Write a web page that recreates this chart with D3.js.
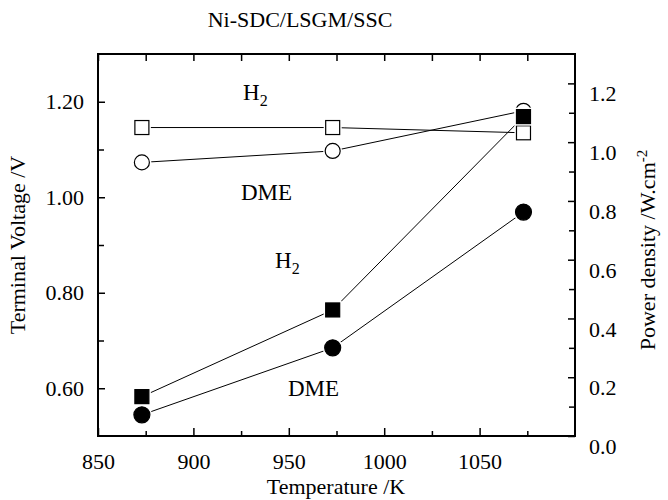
<!DOCTYPE html>
<html lang="en">
<head>
<meta charset="UTF-8">
<title>Ni-SDC/LSGM/SSC</title>
<script src="https://d3js.org/d3.v7.min.js"></script>
<style>
  body { margin: 0; background: #fff; }
  svg text { font-family: "Liberation Serif", "DejaVu Serif", serif; fill: #000; }
</style>
</head>
<body>
<div id="chart"></div>
<script>
// data
const temps = [873, 973, 1073];
const voltH2 = [1.146, 1.146, 1.135];     // open squares, left axis
const voltDME = [1.073, 1.097, 1.181];    // open circles, left axis
const powerH2 = [0.134, 0.429, 1.087];    // filled squares, right axis
const powerDME = [0.072, 0.300, 0.762];   // filled circles, right axis

const xTicks = [850, 900, 950, 1000, 1050];
const xMinor = [875, 925, 975, 1025, 1075];
const leftTicks = [0.6, 0.8, 1.0, 1.2];
const leftMinor = [0.7, 0.9, 1.1];
const rightTicks = [0.0, 0.2, 0.4, 0.6, 0.8, 1.0, 1.2];
const rightMinor = [0.1, 0.3, 0.5, 0.7, 0.9, 1.1];

const W = 668, H = 500;
const margin = { top: 54, right: 93, bottom: 64, left: 98 };
const width = W - margin.left - margin.right;
const height = H - margin.top - margin.bottom;
const serif = '"Liberation Serif", "DejaVu Serif", serif';

const svg = d3.select("#chart").append("svg")
  .attr("width", W).attr("height", H)
  .attr("font-family", serif);

const g = svg.append("g")
  .attr("transform", `translate(${margin.left},${margin.top})`);

const x = d3.scaleLinear().domain([850, 1100]).range([0, width]);
const yL = d3.scaleLinear().domain([0.5, 1.3]).range([height, 0]);
const yR = d3.scaleLinear().domain([0, 1.3]).range([height, 0]);

const fs = 22;

// axes (ticks point inward)
function styleAxis(sel) {
  sel.attr("font-family", serif).attr("font-size", fs);
  sel.select(".domain").remove();
  sel.selectAll(".tick line").attr("stroke", "#000").attr("stroke-width", 1.5);
  sel.selectAll(".tick text").style("font-size", fs + "px").style("font-family", serif);
}

g.append("g").attr("transform", `translate(0,${height})`)
  .call(d3.axisBottom(x).tickValues(xTicks).tickSizeInner(-8).tickPadding(17).tickFormat(d3.format("d")))
  .call(styleAxis);
g.append("g").attr("transform", `translate(0,${height})`)
  .call(d3.axisBottom(x).tickValues(xMinor).tickSizeInner(-5).tickFormat(""))
  .call(styleAxis);
g.append("g")
  .call(d3.axisTop(x).tickValues(xTicks.concat(xMinor)).tickSizeInner(-7).tickFormat(""))
  .call(styleAxis);

g.append("g")
  .call(d3.axisLeft(yL).tickValues(leftTicks).tickSizeInner(-7).tickPadding(14).tickFormat(d3.format(".2f")))
  .call(styleAxis);
g.append("g")
  .call(d3.axisLeft(yL).tickValues(leftMinor).tickSizeInner(-6).tickFormat(""))
  .call(styleAxis);

const rAx = g.append("g").attr("transform", `translate(${width},0)`)
  .call(d3.axisRight(yR).tickValues(rightTicks).tickSizeInner(-7).tickPadding(14).tickFormat(d3.format(".1f")))
  .call(styleAxis);
rAx.selectAll(".tick text").attr("dy", "0.8em");
g.append("g").attr("transform", `translate(${width},0)`)
  .call(d3.axisRight(yR).tickValues(rightMinor).tickSizeInner(-6).tickFormat(""))
  .call(styleAxis);

// frame
g.append("rect").attr("width", width).attr("height", height)
  .attr("fill", "none").attr("stroke", "#000").attr("stroke-width", 2);

// series
function drawLine(vals, ys) {
  const line = d3.line().x((d, i) => x(temps[i])).y(d => ys(d));
  g.append("path").datum(vals).attr("d", line)
    .attr("fill", "none").attr("stroke", "#000").attr("stroke-width", 1);
}
function squares(vals, ys, filled) {
  const s = 14;
  g.selectAll(null).data(vals).enter().append("rect")
    .attr("x", (d, i) => x(temps[i]) - s / 2 - 2).attr("y", d => ys(d) - s / 2 - 2)
    .attr("width", s + 4).attr("height", s + 4).attr("fill", "#fff");
  g.selectAll(null).data(vals).enter().append("rect")
    .attr("x", (d, i) => x(temps[i]) - s / 2).attr("y", d => ys(d) - s / 2)
    .attr("width", s).attr("height", s)
    .attr("fill", filled ? "#000" : "#fff").attr("stroke", "#000").attr("stroke-width", 1.2);
}
function circles(vals, ys, filled) {
  const r = filled ? 8 : 7.5;
  g.selectAll(null).data(vals).enter().append("circle")
    .attr("cx", (d, i) => x(temps[i])).attr("cy", d => ys(d)).attr("r", r + 2)
    .attr("fill", "#fff");
  g.selectAll(null).data(vals).enter().append("circle")
    .attr("cx", (d, i) => x(temps[i])).attr("cy", d => ys(d)).attr("r", r)
    .attr("fill", filled ? "#000" : "#fff").attr("stroke", "#000").attr("stroke-width", 1.2);
}

drawLine(voltH2, yL);
drawLine(voltDME, yL);
drawLine(powerH2, yR);
drawLine(powerDME, yR);
squares(voltH2, yL, false);
circles(voltDME, yL, false);
circles(powerDME, yR, true);
squares(powerH2, yR, true);

// in-plot labels
function h2(px, py) {
  const t = svg.append("text").attr("x", px).attr("y", py).style("font-size", "23px");
  t.append("tspan").text("H");
  t.append("tspan").attr("dy", 6).style("font-size", "16px").text("2");
}
h2(243, 100);
h2(275, 268);
svg.append("text").attr("x", 241).attr("y", 200).style("font-size", "23px").text("DME");
svg.append("text").attr("x", 288).attr("y", 396).style("font-size", "23px").text("DME");

// titles
svg.append("text").attr("x", 300).attr("y", 27).attr("text-anchor", "middle")
  .style("font-size", "22px").text("Ni-SDC/LSGM/SSC");
svg.append("text").attr("x", 336).attr("y", 494).attr("text-anchor", "middle")
  .style("font-size", "22px").text("Temperature /K");
svg.append("text").attr("transform", `translate(25,${margin.top + height / 2}) rotate(-90)`)
  .attr("text-anchor", "middle").style("font-size", "22px").text("Terminal Voltage /V");
const pt = svg.append("text").attr("transform", `translate(655,${margin.top + height / 2 + 5}) rotate(-90)`)
  .attr("text-anchor", "middle").style("font-size", "22px");
pt.append("tspan").text("Power density /W.cm");
pt.append("tspan").attr("dy", -8).style("font-size", "15px").text("-2");
</script>
</body>
</html>
